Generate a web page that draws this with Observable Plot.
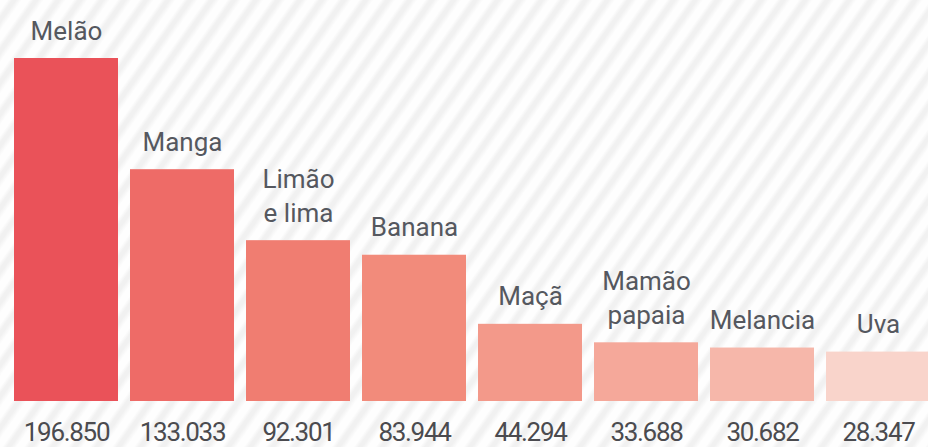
<!DOCTYPE html>
<html>
<head>
<meta charset="utf-8">
<script src="https://cdn.jsdelivr.net/npm/d3@7"></script>
<script src="https://cdn.jsdelivr.net/npm/@observablehq/plot@0.6"></script>
<style>
  html, body { margin: 0; padding: 0; background: #fff; overflow: hidden; }
  .values text { letter-spacing: -1.3px; }
</style>
</head>
<body>
<div id="chart"></div>
<script>
// Fruit production (tonnes), largest first
const fruits = ["Melão", "Manga", "Limão e lima", "Banana", "Maçã", "Mamão papaia", "Melancia", "Uva"];
const labelLines = ["Melão", "Manga", "Limão\ne lima", "Banana", "Maçã", "Mamão\npapaia", "Melancia", "Uva"];
const tonnes = [196850, 133033, 92301, 83944, 44294, 33688, 30682, 28347];

// Red-to-pink ramp, one shade per fruit
const palette = ["#ea5259", "#ee6b67", "#f07d71", "#f28b7b", "#f3998a", "#f5a89a", "#f6b7aa", "#f9d4cb"];

const data = fruits.map((fruit, i) => ({ fruit, label: labelLines[i], value: tonnes[i] }));

// Brazilian number format: 196.850
const fmt = d3.formatLocale({ decimal: ",", thousands: ".", grouping: [3], currency: ["R$", ""] }).format(",d");

const chart = Plot.plot({
  width: 928,
  height: 447,
  marginTop: 58,
  marginBottom: 46,
  marginLeft: 0,
  marginRight: 0,
  style: {
    background: "repeating-linear-gradient(125deg, #fefefe 0px, #fefefe 6px, #f1f1f1 10px, #f1f1f1 13px, #fefefe 18px)",
    overflow: "hidden"
  },
  x: { domain: fruits, range: [6.5, 936.5], paddingInner: 0.106, paddingOuter: 0.053, axis: null },
  y: { domain: [0, d3.max(tonnes)], axis: null },
  color: { domain: fruits, range: palette },
  marks: [
    Plot.barY(data, { x: "fruit", y: "value", fill: "fruit" }),
    Plot.text(data, {
      x: "fruit", y: "value", text: "label",
      dy: -19, lineAnchor: "bottom", lineHeight: 1.3,
      fontSize: 26, fontFamily: "Roboto", fill: "#55585f"
    }),
    Plot.text(data, {
      x: "fruit", y: () => 0, text: d => fmt(d.value),
      dy: 39, lineAnchor: "bottom",
      fontSize: 26, fontFamily: "Roboto", fill: "#4b4b4f",
      className: "values"
    })
  ]
});

document.getElementById("chart").append(chart);
</script>
</body>
</html>
